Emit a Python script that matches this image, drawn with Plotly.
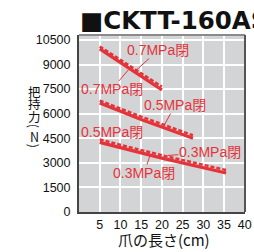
import plotly.graph_objects as go

# ---- data ----
x_07 = [5, 12.5, 20]
f07_solid = [9950, 8700, 7450]
f07_dash = [10100, 8870, 7650]

x_05 = [5, 15, 27.5]
f05_solid = [6650, 5650, 4500]
f05_dash = [6800, 5820, 4680]

x_03 = [5, 20, 35.5]
f03_solid = [4250, 3290, 2380]
f03_dash = [4420, 3460, 2560]

x_ticks = [5, 10, 15, 20, 25, 30, 35, 40]
y_ticks = [0, 1500, 3000, 4500, 6000, 7500, 9000, 10500]
y_ticktext = [str(v) for v in y_ticks]

label_text = "MPa閉"
# (text, arrow tip x, arrow tip y, text offset ax, ay, show arrow)
labels = [
    ("0.7" + label_text, 13.87, 8665, 22, -20, True),
    ("0.7" + label_text, 12.0, 8700, -17, 20, True),
    ("0.5" + label_text, 20.58, 5309, 11, -20, True),
    ("0.5" + label_text, 7.9, 4900, 0, 0, False),
    ("0.3" + label_text, 21.43, 3450, 42, -3, True),
    ("0.3" + label_text, 17.18, 3478, -6, 18, True),
]

RED = "#e5333a"
fig = go.Figure()
for xs, ys_s, ys_d in [(x_07, f07_solid, f07_dash), (x_05, f05_solid, f05_dash), (x_03, f03_solid, f03_dash)]:
    fig.add_trace(go.Scatter(x=xs, y=ys_d, mode="lines", line=dict(color=RED, width=2.5, dash="4px,2px"),
                             showlegend=False, hoverinfo="skip"))
    fig.add_trace(go.Scatter(x=xs, y=ys_s, mode="lines", line=dict(color=RED, width=3.2),
                             showlegend=False, hoverinfo="skip"))

lab_font = dict(family="Liberation Sans, Noto Sans CJK JP", size=14, color=RED)
for text, x, y, ax, ay, arrow in labels:
    fig.add_annotation(x=x, y=y, text=text, xref="x", yref="y", showarrow=arrow,
                       ax=ax, ay=ay, arrowhead=0, arrowwidth=1, arrowcolor=RED,
                       standoff=0, startstandoff=0, font=lab_font, borderpad=0)

# title
fig.add_annotation(xref="paper", yref="paper", x=-0.008, y=1.082, xanchor="left", yanchor="middle",
                   text="■CKTT-160AS", showarrow=False,
                   font=dict(family="DejaVu Sans", size=24.5, color="#111111", weight="bold"))

# y title, stacked upright characters
ychars = [("把", 91, 0), ("持", 103.5, 0), ("力", 116, 0), ("(", 125.5, 90), ("N", 136, 0), (")", 145.5, 90)]
for ch, py, ang in ychars:
    fig.add_annotation(xref="paper", yref="paper", x=(33 - 79) / 173, y=(212 - py) / 177,
                       text=ch, showarrow=False, textangle=ang, xanchor="center", yanchor="middle",
                       font=dict(family="Noto Sans CJK JP", size=12.5, color="#111111"))

# x title
fig.add_annotation(xref="paper", yref="paper", x=(167.5 - 79) / 173, y=(212 - 239.5) / 177,
                   text="爪の長さ(cm)", showarrow=False, xanchor="center", yanchor="middle",
                   font=dict(family="Noto Sans CJK JP", size=15, color="#111111"))

# top and right frame
fig.add_shape(type="line", xref="paper", yref="paper", x0=0, x1=1, y0=1, y1=1,
              line=dict(color="#8a8a8a", width=2))
fig.add_shape(type="line", xref="paper", yref="paper", x0=1, x1=1, y0=0, y1=1,
              line=dict(color="#555555", width=2))

tick_font = dict(family="Liberation Sans, Arial", size=12.5, color="#111111")
fig.update_xaxes(range=[0, 40.05], tickvals=x_ticks, showgrid=True, gridcolor="white", gridwidth=2,
                 showline=True, linecolor="#444444", linewidth=2, zeroline=False,
                 tickfont=tick_font, ticks="", ticklabelstandoff=0, ticklabeloverflow="allow",
                 fixedrange=True)
fig.update_yaxes(range=[0, 10800], tickvals=y_ticks, ticktext=y_ticktext, showgrid=True,
                 gridcolor="white", gridwidth=2,
                 showline=True, linecolor="#444444", linewidth=2, zeroline=False,
                 tickfont=tick_font, ticks="", ticklabelstandoff=4, fixedrange=True)

fig.update_layout(width=254, height=252, margin=dict(l=79, r=2, t=35, b=40),
                  plot_bgcolor="#d3d4d6", paper_bgcolor="white", showlegend=False)

fig.write_html("out.html", config={"displayModeBar": False},
               post_script="document.body.style.margin='0';document.body.style.overflow='hidden';")
